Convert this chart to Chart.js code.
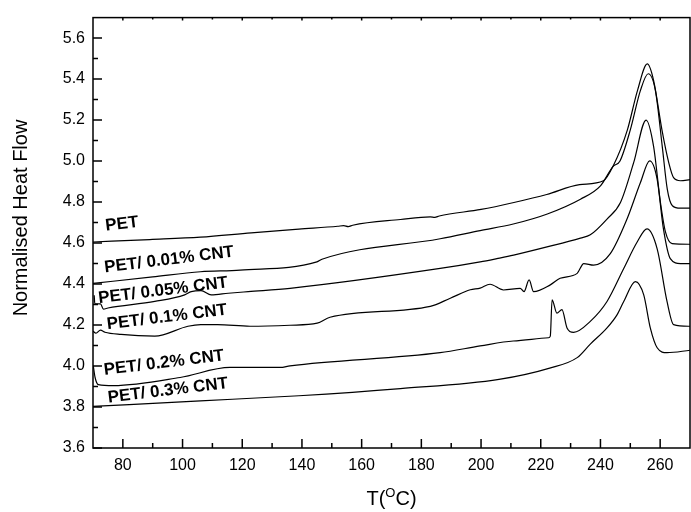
<!DOCTYPE html>
<html>
<head>
<meta charset="utf-8">
<script src="https://cdn.jsdelivr.net/npm/chart.js@4.4.0/dist/chart.umd.min.js"></script>
<style>
  html, body { margin: 0; padding: 0; background: #fff; }
  #wrap { width: 691px; height: 512px; }
</style>
</head>
<body>
<div id="wrap"><canvas id="dsc" width="691" height="512"></canvas></div>
<script>
const FONT = '"Liberation Sans", Arial, sans-serif';

// axis ticks
const xTicks = [80, 100, 120, 140, 160, 180, 200, 220, 240, 260];
const yTicks = [3.6, 3.8, 4.0, 4.2, 4.4, 4.6, 4.8, 5.0, 5.2, 5.4, 5.6];

// DSC curves: temperature (°C) / normalised heat flow
const petT = [70, 89, 106, 123, 139, 152, 154, 155.5, 157, 173, 183, 184.5, 186, 200, 211, 222, 233, 241, 244.3, 249, 252.4, 255.7, 257.8, 260.6, 262.9, 264.5, 266.8, 270];
const petV = [4.605, 4.617, 4.629, 4.650, 4.668, 4.682, 4.685, 4.680, 4.687, 4.715, 4.728, 4.725, 4.732, 4.764, 4.798, 4.837, 4.885, 4.904, 4.977, 5.151, 5.344, 5.474, 5.394, 5.152, 4.991, 4.919, 4.904, 4.909];

const cnt001T = [70, 90, 106, 119.3, 145, 146.7, 186.3, 199.7, 210.8, 222.2, 233.3, 240, 244.3, 246.5, 250, 253.4, 256, 258.4, 260.7, 262.4, 264.1, 266.8, 270];
const cnt001V = [4.403, 4.435, 4.46, 4.468, 4.508, 4.521, 4.621, 4.661, 4.693, 4.742, 4.814, 4.879, 4.975, 4.999, 5.152, 5.345, 5.426, 5.345, 5.072, 4.862, 4.782, 4.77, 4.77];

const cnt005T = [70.4, 70.6, 72.5, 73.5, 75, 90.7, 100.7, 102.9, 106.2, 109.6, 115.3, 122, 136, 186.3, 199.7, 205.3, 210.9, 222.1, 233.3, 236.6, 242.2, 246.7, 251.1, 255.3, 257.8, 260.1, 261.8, 264, 270];
const cnt005V = [4.345, 4.305, 4.303, 4.278, 4.283, 4.315, 4.347, 4.363, 4.368, 4.347, 4.355, 4.363, 4.379, 4.476, 4.508, 4.524, 4.541, 4.581, 4.624, 4.64, 4.717, 4.798, 4.991, 5.2, 5.072, 4.798, 4.653, 4.597, 4.594];

const cnt01T = [70, 71, 72.5, 74, 79.4, 90.7, 101.8, 106.1, 111.7, 122.6, 136, 145.1, 149.4, 183, 189.7, 196.4, 199.7, 203, 207.5, 213.1, 214.4, 216.1, 217.6, 223.2, 226.5, 232.2, 234.4, 237.7, 243.3, 248.9, 253.4, 256.5, 259, 261.1, 263.4, 266.8, 270];
const cnt01V = [4.17, 4.16, 4.175, 4.165, 4.154, 4.146, 4.194, 4.202, 4.202, 4.194, 4.199, 4.209, 4.238, 4.291, 4.331, 4.372, 4.38, 4.399, 4.371, 4.379, 4.363, 4.42, 4.363, 4.396, 4.428, 4.452, 4.5, 4.492, 4.548, 4.717, 4.895, 5.001, 4.911, 4.669, 4.524, 4.5, 4.5];

const cnt02T = [70.1, 70.7, 71.8, 76.8, 99.2, 115.9, 132.7, 136, 186.3, 199.7, 210.8, 222.6, 223.2, 223.8, 225.4, 227.1, 228.8, 231, 236.6, 242.2, 247.8, 252.3, 255.6, 259, 262.3, 264.5, 270];
const cnt02V = [4.001, 3.944, 3.909, 3.904, 3.944, 3.993, 3.993, 4.001, 4.065, 4.098, 4.122, 4.138, 4.146, 4.323, 4.258, 4.275, 4.186, 4.164, 4.218, 4.315, 4.476, 4.605, 4.669, 4.572, 4.315, 4.202, 4.194];

const cnt03T = [70, 106, 139, 173, 206, 223, 232.2, 236.6, 242.2, 245.6, 247.8, 251.7, 254.5, 256.7, 259, 262.3, 270];
const cnt03V = [3.803, 3.83, 3.855, 3.89, 3.935, 3.99, 4.041, 4.107, 4.186, 4.251, 4.315, 4.412, 4.347, 4.186, 4.089, 4.065, 4.077];

// curve labels and where they sit (T, heat flow of the label centre)
const curveNames = ['PET', 'PET/ 0.01% CNT', 'PET/ 0.05% CNT', 'PET/ 0.1% CNT', 'PET/ 0.2% CNT', 'PET/ 0.3% CNT'];
const labelT = [79.7, 95.5, 93.5, 94.8, 93.8, 95.1];
const labelV = [4.692, 4.518, 4.368, 4.238, 4.015, 3.88];

function pairs(ts, vs) {
    return ts.map((t, i) => ({ x: t, y: vs[i] }));
}

const series = [
    pairs(petT, petV),
    pairs(cnt001T, cnt001V),
    pairs(cnt005T, cnt005V),
    pairs(cnt01T, cnt01V),
    pairs(cnt02T, cnt02V),
    pairs(cnt03T, cnt03V)
];

// frame with inward ticks, like the original plot
const framePlugin = {
    id: 'frame',
    afterDraw(chart) {
        const ctx = chart.ctx;
        const a = chart.chartArea;
        const xs = chart.scales.x;
        const ys = chart.scales.y;
        ctx.save();
        ctx.strokeStyle = '#000';
        ctx.lineWidth = 1.5;
        ctx.strokeRect(a.left, a.top, a.right - a.left, a.bottom - a.top);
        ctx.beginPath();
        xTicks.forEach((t, i) => {
            const px = xs.getPixelForValue(t);
            ctx.moveTo(px, a.bottom); ctx.lineTo(px, a.bottom - 9);
            ctx.moveTo(px, a.top); ctx.lineTo(px, a.top + 3);
            if (i < xTicks.length - 1) {
                const mx = xs.getPixelForValue((t + xTicks[i + 1]) / 2);
                ctx.moveTo(mx, a.bottom); ctx.lineTo(mx, a.bottom - 5);
                ctx.moveTo(mx, a.top); ctx.lineTo(mx, a.top + 2);
            }
        });
        yTicks.forEach((v, i) => {
            const py = ys.getPixelForValue(v);
            ctx.moveTo(a.left, py); ctx.lineTo(a.left + 9, py);
            if (i < yTicks.length - 1) {
                const my = ys.getPixelForValue((v + yTicks[i + 1]) / 2);
                ctx.moveTo(a.left, my); ctx.lineTo(a.left + 5, my);
            }
        });
        ctx.stroke();
        ctx.restore();
    }
};

// curve names written along the baselines
const namePlugin = {
    id: 'names',
    afterDatasetsDraw(chart) {
        const ctx = chart.ctx;
        const xs = chart.scales.x;
        const ys = chart.scales.y;
        ctx.save();
        ctx.fillStyle = '#000';
        ctx.font = 'bold 17px ' + FONT;
        ctx.textAlign = 'center';
        ctx.textBaseline = 'middle';
        curveNames.forEach((name, i) => {
            ctx.save();
            ctx.translate(xs.getPixelForValue(labelT[i]), ys.getPixelForValue(labelV[i]));
            ctx.rotate(-7 * Math.PI / 180);
            ctx.fillText(name, 0, 0);
            ctx.restore();
        });
        ctx.restore();
    }
};

// axis titles (x title needs a raised "O")
const titlePlugin = {
    id: 'titles',
    afterDraw(chart) {
        const ctx = chart.ctx;
        const a = chart.chartArea;
        ctx.save();
        ctx.fillStyle = '#000';
        ctx.textBaseline = 'alphabetic';

        ctx.save();
        ctx.font = '20px ' + FONT;
        ctx.textAlign = 'center';
        ctx.translate(27, 218);
        ctx.rotate(-Math.PI / 2);
        ctx.fillText('Normalised Heat Flow', 0, 0);
        ctx.restore();

        const big = '20px ' + FONT;
        const small = '13px ' + FONT;
        ctx.textAlign = 'left';
        ctx.font = big;
        const w1 = ctx.measureText('T(').width;
        const w3 = ctx.measureText('C)').width;
        ctx.font = small;
        const w2 = ctx.measureText('O').width;
        let x = (a.left + a.right) / 2 - (w1 + w2 + w3) / 2;
        const base = 505;
        ctx.font = big;
        ctx.fillText('T(', x, base);
        x += w1;
        ctx.font = small;
        ctx.fillText('O', x, base - 8);
        x += w2;
        ctx.font = big;
        ctx.fillText('C)', x, base);
        ctx.restore();
    }
};

new Chart(document.getElementById('dsc').getContext('2d'), {
    type: 'line',
    data: {
        datasets: series.map((pts, i) => ({
            label: curveNames[i],
            data: pts,
            borderColor: '#000',
            borderWidth: 1.2,
            pointRadius: 0,
            fill: false,
            cubicInterpolationMode: 'monotone'
        }))
    },
    options: {
        responsive: false,
        animation: false,
        layout: { padding: { top: 13, right: 1, left: 0, bottom: 0 } },
        plugins: {
            legend: { display: false },
            tooltip: { enabled: false }
        },
        scales: {
            x: {
                type: 'linear',
                min: 70,
                max: 270,
                grid: { display: false, drawTicks: false },
                border: { display: false },
                afterBuildTicks: s => { s.ticks = xTicks.map(v => ({ value: v })); },
                afterFit: s => { s.height = 64; },
                ticks: {
                    color: '#000',
                    font: { size: 16, family: FONT },
                    padding: 8,
                    maxRotation: 0,
                    autoSkip: false
                }
            },
            y: {
                type: 'linear',
                min: 3.6,
                max: 5.7,
                grid: { display: false, drawTicks: false },
                border: { display: false },
                afterBuildTicks: s => { s.ticks = yTicks.map(v => ({ value: v })); },
                afterFit: s => { s.width = 93; },
                ticks: {
                    color: '#000',
                    font: { size: 16, family: FONT },
                    padding: 8,
                    callback: v => v.toFixed(1)
                }
            }
        }
    },
    plugins: [framePlugin, namePlugin, titlePlugin]
});
</script>
</body>
</html>
